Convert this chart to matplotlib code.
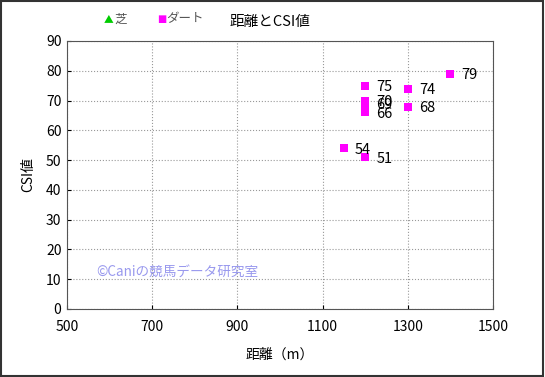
import matplotlib
matplotlib.use("Agg")
import matplotlib.pyplot as plt
from matplotlib.patches import Rectangle

plt.rcParams['font.family'] = ['Noto Sans CJK JP', 'DejaVu Sans']

dirt_dist = [1200, 1200, 1200, 1200, 1200, 1150, 1300, 1300, 1400]
dirt_csi = [75, 70, 69, 66, 51, 54, 74, 68, 79]
turf_dist = []
turf_csi = []

xticks = [500, 700, 900, 1100, 1300, 1500]
yticks = list(range(0, 91, 10))

W, H = 545, 377
fig = plt.figure(figsize=(W/100, H/100), dpi=100)
ax = fig.add_axes([67/W, 1-309/H, (493-67)/W, (309-41)/H])

ax.scatter(turf_dist, turf_csi, marker='^', s=30, color='#00cc00', edgecolor='#008000', linewidths=0.5)
ax.scatter(dirt_dist, dirt_csi, marker='s', s=34, color='#ff00ff', linewidths=0, zorder=3)
for x, y in zip(dirt_dist, dirt_csi):
    ax.annotate(str(y), (x, y), xytext=(8, -1), textcoords='offset points',
                fontsize=10.5, color='black', va='center', ha='left')

ax.set_xlim(500, 1500)
ax.set_ylim(0, 90)
ax.set_xticks(xticks)
ax.set_yticks(yticks)
ax.tick_params(axis='both', labelsize=10, length=3, direction='in')
ax.tick_params(axis='x', pad=8)
ax.tick_params(axis='y', pad=4)
ax.grid(True, linestyle=':', color='#999999', linewidth=0.8)
for s in ax.spines.values():
    s.set_color('#555555')
    s.set_linewidth(0.8)

ax.set_xlabel('距離（m）', fontsize=10, labelpad=10)
ax.set_ylabel('CSI値', fontsize=10, labelpad=8)
ax.text(568, 12.5, '©Caniの競馬データ研究室', fontsize=9.8, color='#9999ee', va='center', ha='left')

fig.text(270/W, 1-22/H, '距離とCSI値', fontsize=10.5, ha='center', va='center')
fig.text(104/W, 1-19/H, '▲', fontsize=7, color='#00cc00', ha='left', va='center')
fig.text(114/W, 1-19/H, '芝', fontsize=9, color='#555555', ha='left', va='center')
fig.text(157/W, 1-19/H, '■', fontsize=7, color='#ff00ff', ha='left', va='center', family='DejaVu Sans')
fig.text(166/W, 1-19/H, 'ダート', fontsize=9, color='#555555', ha='left', va='center')

fig.patches.append(Rectangle((0.002, 0.003), 0.995, 0.994, transform=fig.transFigure,
                             fill=False, edgecolor='#333333', linewidth=1.5))

fig.savefig('out.png', dpi=100)
